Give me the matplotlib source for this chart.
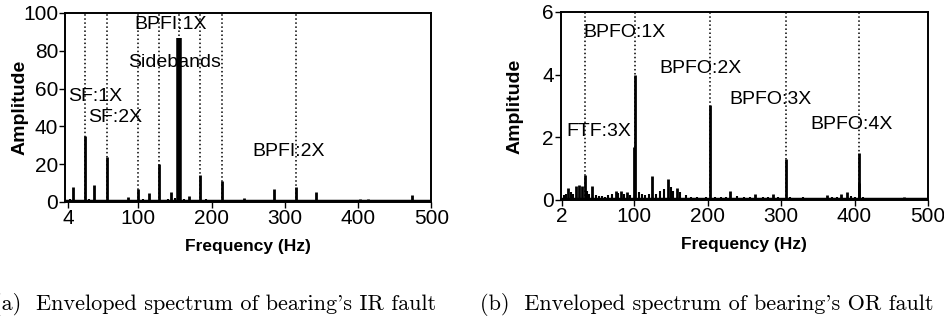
import matplotlib.pyplot as plt

# (a) IR fault envelope spectrum
ir_freq = [10.8, 26.7, 39.6, 57.6, 86, 99, 114, 128, 145, 153.5, 168.5,
           184.5, 214, 244, 285, 315, 343, 402, 413, 443, 473]
ir_amp = [8, 35, 9, 24, 2.5, 7, 4.5, 20, 5, 32, 3,
          14, 11, 2, 7, 8, 5, 1.5, 1.5, 1, 3.5]
ir_main_freq = 155.5
ir_main_amp = 87
ir_noise_freq = [6, 15, 20, 33, 46, 50, 65, 72, 78, 92, 106, 120, 135, 140,
                 150, 162, 175, 192, 200, 207, 222, 230, 252, 262, 272, 295,
                 305, 325, 335, 355, 365, 380, 392, 425, 455, 465, 485, 495]
ir_noise_amp = [1.5, 1, 1.2, 1.5, 1, 1.2, 1, 0.8, 0.8, 1.2, 1.5, 1, 1.2, 1.5,
                2, 1.5, 1, 1.5, 1, 1, 1, 0.8, 0.8, 0.8, 1, 1,
                0.8, 0.8, 0.8, 0.6, 0.6, 0.8, 0.6, 0.6, 0.6, 0.8, 0.6, 0.6]
ir_marks = [27, 57.6, 99, 128, 155.5, 184.5, 214, 315]

# (b) OR fault envelope spectrum
or_freq = [9.8, 21, 25, 29, 32.5, 43, 75, 82, 90, 99.5, 100.7, 124, 146, 158,
           202.6, 231, 265, 289.5, 306.3, 363, 381, 389.5, 405.5, 406.5, 467]
or_amp = [0.38, 0.45, 0.48, 0.45, 0.8, 0.45, 0.28, 0.3, 0.25, 1.7, 4.0, 0.77,
          0.66, 0.38, 3.03, 0.27, 0.2, 0.2, 1.3, 0.15, 0.2, 0.25, 0.55, 1.5, 0.1]
or_noise_freq = [4, 7, 14, 17, 36, 39, 48, 52, 56, 60, 65, 70, 78, 86, 94,
                 106, 110, 115, 120, 130, 135, 140, 150, 153, 163, 170, 178,
                 185, 192, 198, 210, 218, 225, 240, 250, 258, 275, 282, 296,
                 312, 320, 330, 340, 350, 370, 376, 395, 400, 412, 420, 430,
                 440, 450, 460, 475, 485, 495]
or_noise_amp = [0.15, 0.2, 0.25, 0.2, 0.3, 0.2, 0.15, 0.12, 0.12, 0.1, 0.15,
                0.2, 0.22, 0.2, 0.15, 0.25, 0.2, 0.15, 0.2, 0.2, 0.3, 0.35,
                0.4, 0.3, 0.25, 0.15, 0.1, 0.08, 0.06, 0.1, 0.1, 0.08, 0.1,
                0.12, 0.1, 0.08, 0.1, 0.08, 0.08, 0.1, 0.06, 0.08, 0.06,
                0.06, 0.1, 0.08, 0.12, 0.1, 0.08, 0.06, 0.06, 0.06, 0.06,
                0.05, 0.06, 0.05, 0.05]
or_marks = [32.5, 100.7, 203, 306.3, 406.5]

xticks = [100, 200, 300, 400, 500]

plt.rcParams['font.family'] = ['Liberation Sans', 'DejaVu Sans']

fig = plt.figure(figsize=(9.44, 3.24), dpi=100)
ax1 = fig.add_axes([0.069, 0.377, 0.388, 0.583])
ax2 = fig.add_axes([0.594, 0.383, 0.389, 0.580])


def style(ax, first, ylim, yticks):
    ax.set_xlim(0, 500)
    ax.set_ylim(*ylim)
    ax.set_xticks([first] + xticks)
    ax.set_yticks(yticks)
    ax.tick_params(direction='out', length=4, width=1, labelsize=15, pad=1)
    for s in ax.spines.values():
        s.set_linewidth(1.4)
    ax.set_xlabel('Frequency (Hz)', fontsize=12.5, fontweight='bold', labelpad=8)
    ax.set_ylabel('Amplitude', fontsize=14, fontweight='bold')


# left
ax1.vlines(ir_noise_freq, 0, ir_noise_amp, color='black', lw=1.5)
ax1.vlines(ir_freq, 0, ir_amp, color='black', lw=2)
ax1.vlines(ir_main_freq, 0, ir_main_amp, color='black', lw=4)
ax1.axhline(0.4, color='black', lw=2.5)
for m in ir_marks:
    ax1.axvline(m, color='black', ls=':', lw=1.1)
style(ax1, 4, (0, 100), [0, 20, 40, 60, 80, 100])
ax1.yaxis.set_label_coords(-0.1, 0.5)
tk = dict(fontsize=14, ha='left', va='center')
ax1.text(4, 55.6, 'SF:1X', **tk)
ax1.text(31, 44.4, 'SF:2X', **tk)
ax1.text(95, 93.7, 'BPFI:1X', **tk)
ax1.text(86, 74, 'Sidebands', **tk)
ax1.text(255, 26.5, 'BPFI:2X', **tk)

# right
ax2.vlines(or_noise_freq, 0, or_noise_amp, color='black', lw=1.5)
ax2.vlines(or_freq, 0, or_amp, color='black', lw=2)
ax2.axhline(0.03, color='black', lw=2.5)
for m in or_marks:
    ax2.axvline(m, color='black', ls=':', lw=1.1)
style(ax2, 2, (0, 6), [0, 2, 4, 6])
ax2.yaxis.set_label_coords(-0.1, 0.5)
ax2.text(30.7, 5.34, 'BPFO:1X', **tk)
ax2.text(134, 4.19, 'BPFO:2X', **tk)
ax2.text(230, 3.19, 'BPFO:3X', **tk)
ax2.text(340, 2.40, 'BPFO:4X', **tk)
ax2.text(7.5, 2.17, 'FTF:3X', **tk)

# caption (a) is clipped at the left edge in the original figure as well
cap = dict(fontsize=16, family='cmr10', ha='center', va='center')
fig.text(215 / 944, 1 - 305 / 324, "(a)  Enveloped spectrum of bearing's IR fault", **cap)
fig.text(707 / 944, 1 - 305 / 324, "(b)  Enveloped spectrum of bearing's OR fault", **cap)

fig.savefig('out.png', dpi=100)
